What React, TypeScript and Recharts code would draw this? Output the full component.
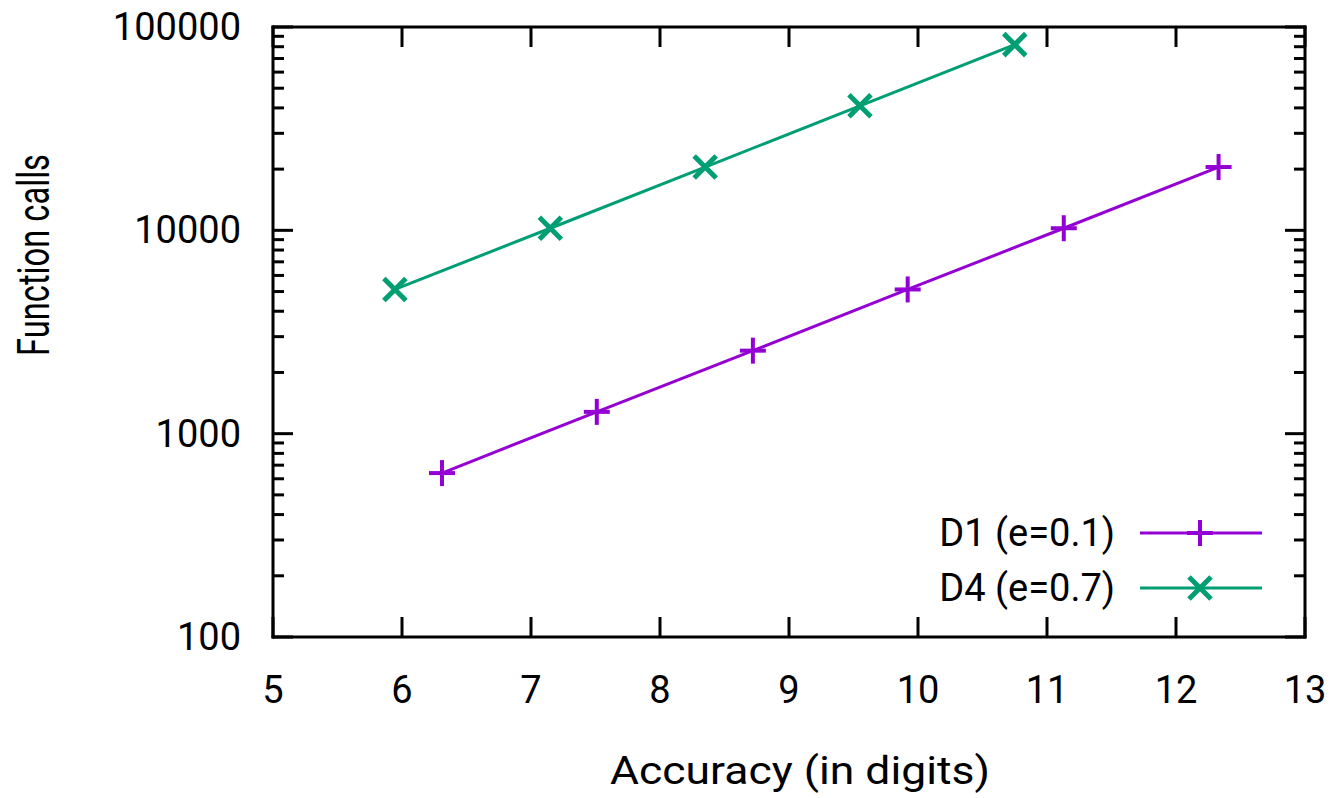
import React from 'react';
import { LineChart, Line, XAxis, YAxis, Legend } from 'recharts';

const d1Accuracy = [6.31, 7.51, 8.72, 9.92, 11.13, 12.33];
const d1Calls = [640, 1280, 2560, 5120, 10240, 20480];
const d4Accuracy = [5.945, 7.15, 8.35, 9.55, 10.75];
const d4Calls = [5120, 10240, 20480, 40960, 81920];

const xTicks = [5, 6, 7, 8, 9, 10, 11, 12, 13];
const yMajorTicks = [100, 1000, 10000, 100000];
const yMinorTicks = [200, 300, 400, 500, 600, 700, 800, 900, 2000, 3000, 4000, 5000, 6000, 7000, 8000, 9000, 20000, 30000, 40000, 50000, 60000, 70000, 80000, 90000];
const yTicks = [...yMajorTicks, ...yMinorTicks].sort((a, b) => a - b);

const seriesNames = ['D1 (e=0.1)', 'D4 (e=0.7)'];
const COLORS = ['#9400D3', '#009E73'];

const d1Data = d1Accuracy.map((x, i) => ({ x, y: d1Calls[i] }));
const d4Data = d4Accuracy.map((x, i) => ({ x, y: d4Calls[i] }));

const FONT = 'Roboto, "Noto Sans", sans-serif';
const MAJOR = 20;
const MINOR = 11;
const TICK_W = 3;

const PlusMark = ({ cx, cy, color }: any) => (
  <g>
    <line x1={cx - 13} y1={cy} x2={cx + 13} y2={cy} stroke={color} strokeWidth={4} />
    <line x1={cx} y1={cy - 13} x2={cx} y2={cy + 13} stroke={color} strokeWidth={4} />
  </g>
);
const CrossMark = ({ cx, cy, color }: any) => (
  <g>
    <line x1={cx - 11} y1={cy - 11} x2={cx + 11} y2={cy + 11} stroke={color} strokeWidth={5} />
    <line x1={cx - 11} y1={cy + 11} x2={cx + 11} y2={cy - 11} stroke={color} strokeWidth={5} />
  </g>
);

const isMajorY = (v: number) => yMajorTicks.includes(v);

const BottomTick = (props: any) => {
  const { x, y, payload } = props;
  return (
    <g>
      <line x1={x} y1={y} x2={x} y2={y - MAJOR} stroke="#000" strokeWidth={TICK_W} />
      <text x={x} y={y + 53} textAnchor="middle" dominantBaseline="central" fontFamily={FONT} fontSize={38} fill="#000">
        {payload.value}
      </text>
    </g>
  );
};
const TopTick = (props: any) => {
  const { x, y } = props;
  return <line x1={x} y1={y} x2={x} y2={y + MAJOR} stroke="#000" strokeWidth={TICK_W} />;
};
const LeftTick = (props: any) => {
  const { x, y, payload } = props;
  const major = isMajorY(payload.value);
  return (
    <g>
      <line x1={x} y1={y} x2={x + (major ? MAJOR : MINOR)} y2={y} stroke="#000" strokeWidth={TICK_W} />
      {major && (
        <text x={x - 32} y={y} textAnchor="end" dominantBaseline="central" fontFamily={FONT} fontSize={38} fill="#000">
          {payload.value}
        </text>
      )}
    </g>
  );
};
const RightTick = (props: any) => {
  const { x, y, payload } = props;
  const major = isMajorY(payload.value);
  return <line x1={x} y1={y} x2={x - (major ? MAJOR : MINOR)} y2={y} stroke="#000" strokeWidth={TICK_W} />;
};

const renderLegend = () => (
  <svg width={420} height={120} style={{ display: 'block' }}>
    {seriesNames.map((name, i) => {
      const cy = 28 + i * 55;
      return (
        <g key={name}>
          <text x={195} y={cy} textAnchor="end" dominantBaseline="central" fontFamily={FONT} fontSize={38} fill="#000">
            {name}
          </text>
          <line x1={220} y1={cy} x2={342} y2={cy} stroke={COLORS[i]} strokeWidth={3} />
          {i === 0 ? <PlusMark cx={280} cy={cy} color={COLORS[i]} /> : <CrossMark cx={280} cy={cy} color={COLORS[i]} />}
        </g>
      );
    })}
  </svg>
);

const axisLine = { stroke: '#000', strokeWidth: 3, strokeLinecap: 'square' as const };

export default function App() {
  return (
    <div style={{ position: 'absolute', left: 0, top: 0, width: 1336, height: 798, background: '#fff' }}>
      <LineChart width={1336} height={798} margin={{ top: 17, right: 21, bottom: 101, left: 173 }}>
        <XAxis xAxisId="bottom" type="number" dataKey="x" domain={[5, 13]} ticks={xTicks} orientation="bottom" height={60}
          tick={<BottomTick />} tickLine={false} tickSize={0} tickMargin={0} axisLine={axisLine} allowDataOverflow interval={0} />
        <XAxis xAxisId="top" type="number" dataKey="x" domain={[5, 13]} ticks={xTicks} orientation="top" height={10}
          tick={<TopTick />} tickLine={false} tickSize={0} tickMargin={0} axisLine={axisLine} allowDataOverflow interval={0} />
        <YAxis yAxisId="left" type="number" scale="log" domain={[100, 100000]} ticks={yTicks} orientation="left" width={100}
          tick={<LeftTick />} tickLine={false} tickSize={0} tickMargin={0} axisLine={axisLine} allowDataOverflow interval={0} />
        <YAxis yAxisId="right" type="number" scale="log" domain={[100, 100000]} ticks={yTicks} orientation="right" width={10}
          tick={<RightTick />} tickLine={false} tickSize={0} tickMargin={0} axisLine={axisLine} allowDataOverflow interval={0} />
        <Line xAxisId="bottom" yAxisId="left" data={d1Data} dataKey="y" name={seriesNames[0]} stroke={COLORS[0]} strokeWidth={3}
          isAnimationActive={false} dot={(p: any) => <PlusMark key={`p${p.index}`} cx={p.cx} cy={p.cy} color={COLORS[0]} />} activeDot={false} />
        <Line xAxisId="bottom" yAxisId="left" data={d4Data} dataKey="y" name={seriesNames[1]} stroke={COLORS[1]} strokeWidth={3}
          isAnimationActive={false} dot={(p: any) => <CrossMark key={`c${p.index}`} cx={p.cx} cy={p.cy} color={COLORS[1]} />} activeDot={false} />
        <Legend content={renderLegend} layout="vertical" align="center" verticalAlign="middle"
          wrapperStyle={{ position: 'absolute', left: 920, top: 505, width: 420, height: 120 }} />
        <text transform="translate(800 771) scale(1.17 1)" x={0} y={0} textAnchor="middle" dominantBaseline="central"
          fontFamily={FONT} fontSize={38} fill="#000">
          Accuracy (in digits)
        </text>
        <text transform="translate(34 255) rotate(-90) scale(0.86 1.16)" x={0} y={0} textAnchor="middle" dominantBaseline="central"
          fontFamily={FONT} fontSize={38} fill="#000">
          Function calls
        </text>
      </LineChart>
    </div>
  );
}
